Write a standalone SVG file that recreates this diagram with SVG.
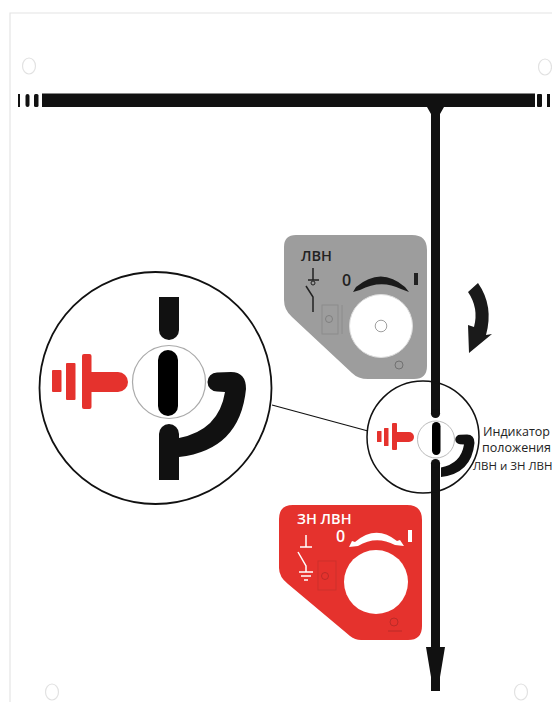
<svg xmlns="http://www.w3.org/2000/svg" width="552" height="702" viewBox="0 0 552 702">
<style>
.t{font-family:"Open Sans","Liberation Sans",sans-serif}
.b{font-weight:600}
.hole{fill:#fff;stroke:#e2e2e2;stroke-width:1.2}
.blk{fill:#111}
.ring{fill:#fff;stroke:#111}
.red{fill:#e5322d}
.thin{fill:none;stroke:#222}
</style>
<defs>
<path id="hook" class="blk" d="M179 438Q219 430 225 392L217 391.500A9.500 9.500 0 0 1 217 372.500L231 372Q246 372 246 389Q240 450 179 457Z"/>
</defs>
<rect width="552" height="702" fill="#fff"/>
<g id="frame">
<path d="M552 13H10V702" fill="none" stroke="#e4e4e4" stroke-width="1.200"/>
<ellipse class="hole" cx="29" cy="66" rx="6.500" ry="8"/>
<ellipse class="hole" cx="545" cy="67" rx="6.500" ry="8"/>
<ellipse class="hole" cx="52" cy="692" rx="6.500" ry="8"/>
<ellipse class="hole" cx="521" cy="692" rx="6.500" ry="8"/>
</g>
<g id="connectors">
<rect class="blk" x="42" y="93.500" width="493" height="13.500"/>
<rect class="blk" x="18" y="94" width="2" height="13"/>
<rect class="blk" x="25.500" y="94" width="4" height="13" rx="2"/>
<rect class="blk" x="34" y="94" width="4.500" height="13" rx="1.500"/>
<rect class="blk" x="537" y="94" width="5" height="13" rx="1"/>
<rect class="blk" x="547" y="94" width="3" height="13"/>
<path class="blk" d="M427 107H444L440 114V647H445L440 677V691H431V677L426 647H431V114Z"/>
<path d="M272 405L368 431" fill="none" stroke="#111" stroke-width="1.200"/>
</g>
<g id="panel-lvn">
<path d="M296 235H412Q427 235 427 250V366Q427 379 414 379H368Q358 379 352 373L292 317Q284 310 284 300V247Q284 235 296 235Z" fill="#9d9d9d"/>
<text class="t b" x="301" y="261" font-size="14.500" fill="#222">ЛВН</text>
<path class="thin" stroke-width="1.500" d="M313 268V280M308 280H319M306 286L313 297V312"/>
<circle class="thin" cx="313" cy="283" r="2" stroke-width="1"/>
<text class="t b" x="342" y="286" font-size="16" fill="#222">0</text>
<rect x="414" y="273" width="4" height="12" fill="#222"/>
<path fill="#1a1a1a" d="M353 292L356 287Q381 266 405 287L409 292L401 289Q381 279 360 290Z"/>
<rect x="322" y="305" width="16" height="29" fill="none" stroke="#888" stroke-width="0.800"/>
<path d="M342 305V334" fill="none" stroke="#888" stroke-width="0.800"/>
<circle cx="329" cy="319" r="3.500" fill="none" stroke="#777" stroke-width="0.800"/>
<circle cx="381" cy="326" r="31.500" fill="#fff" stroke="#ddd" stroke-width="1"/>
<circle cx="381" cy="326" r="5.800" fill="#fff" stroke="#888" stroke-width="0.800"/>
<circle cx="399" cy="365" r="4" fill="none" stroke="#666" stroke-width="0.800"/>
</g>
<path id="rotation-arrow" fill="#1a1a1a" d="M468 292L478 283Q494 306 486 335L492 334L469 353L468 325L474 327Q479 308 468 292Z"/>
<g id="magnifier-large">
<circle class="ring" cx="155.500" cy="388" r="116" stroke-width="1.800"/>
<circle cx="169" cy="382" r="36.500" fill="#fff" stroke="#aaa" stroke-width="1.200"/>
<path class="blk" d="M159 297H179V330A10 10 0 0 1 159 330Z"/>
<rect x="158" y="350" width="20" height="66" rx="10" fill="#000"/>
<path class="blk" d="M159 434A10 10 0 0 1 179 434V480H159Z"/>
<use href="#hook"/>
<rect class="red" x="52" y="370" width="9.500" height="22" rx="1"/>
<rect class="red" x="66" y="363" width="9.500" height="37" rx="1"/>
<rect class="red" x="82" y="354" width="9.500" height="55" rx="2"/>
<path class="red" d="M91 372H118A10 10 0 0 1 118 392H91Z"/>
</g>
<g id="magnifier-small">
<circle cx="423" cy="437" r="56" fill="none" stroke="#111" stroke-width="1.500"/>
<rect x="426" y="414" width="20" height="49" fill="#fff"/>
<circle cx="436" cy="439.500" r="18.500" fill="none" stroke="#aaa" stroke-width="0.800"/>
<circle class="blk" cx="435.500" cy="413.500" r="4.600"/>
<rect x="432" y="422" width="8.500" height="33" rx="4.200" fill="#000"/>
<circle class="blk" cx="435.500" cy="463.500" r="4.600"/>
<use href="#hook" transform="translate(436 439.500) scale(.5) translate(-169 -382)"/>
<rect class="red" x="377" y="431" width="4.500" height="11" rx="0.500"/>
<rect class="red" x="384" y="428" width="4.500" height="18" rx="0.500"/>
<rect class="red" x="392" y="423" width="5" height="27" rx="1"/>
<path class="red" d="M397 432H409A5 5 0 0 1 409 442H397Z"/>
<text class="t" x="483" y="436" font-size="12.500" fill="#222">Индикатор</text>
<text class="t" x="482" y="452" font-size="12.500" fill="#222">положения</text>
<text class="t" x="473" y="470" font-size="11.500" fill="#222">ЛВН и ЗН ЛВН</text>
</g>
<g id="panel-zn">
<path d="M293 505H407Q422 505 422 520V626Q422 640 408 640H361Q355 640 350 636L288 584Q279 577 279 568V519Q279 505 293 505Z" class="red"/>
<text class="t b" x="297" y="524" font-size="14.500" fill="#fff">ЗН ЛВН</text>
<path fill="none" stroke="#fff" stroke-width="1.500" d="M306 535V547M300 547H312M298 552L306 566V572M299 572H313M301 576H311M304 580H308"/>
<text class="t b" x="336" y="542" font-size="16" fill="#fff">0</text>
<rect x="408" y="530" width="4" height="12" fill="#fff"/>
<path fill="#fff" d="M349 547L352 541L355 542Q376 524 397 541L400 540L404 546L395 545Q376 535 358 546Z"/>
<rect x="318" y="561" width="18" height="29" fill="none" stroke="#c8302b" stroke-width="0.800"/>
<circle cx="325" cy="576" r="3.500" fill="none" stroke="#b02a26" stroke-width="0.800"/>
<circle cx="376" cy="582" r="32" fill="#fff"/>
<circle cx="394" cy="622" r="4" fill="none" stroke="#b02a26" stroke-width="0.800"/>
<path d="M388 631H402" fill="none" stroke="#b02a26" stroke-width="0.800"/>
</g>
</svg>
